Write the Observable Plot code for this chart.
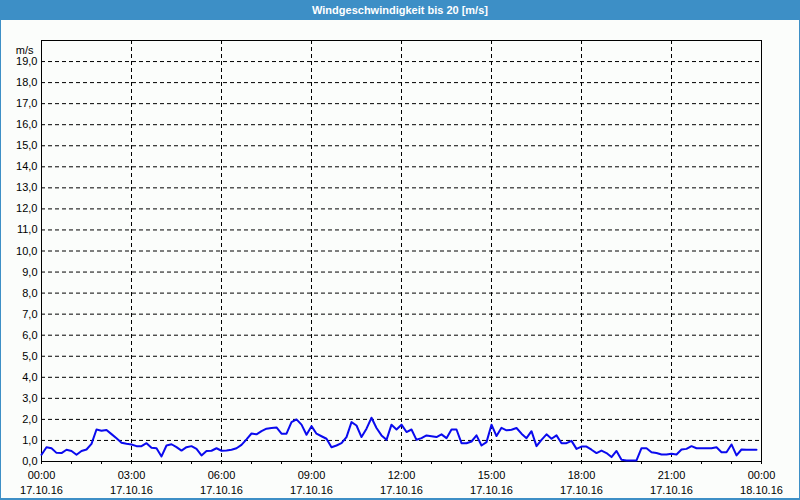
<!DOCTYPE html>
<html>
<head>
<meta charset="utf-8">
<script src="https://cdn.jsdelivr.net/npm/d3@7"></script>
<script src="https://cdn.jsdelivr.net/npm/@observablehq/plot@0.6"></script>
<style>
  html, body { margin: 0; padding: 0; background: #fbfdfb; }
  #wrap { position: relative; width: 800px; height: 500px; overflow: hidden; background: #fbfdfb; }
  #title { position: absolute; left: 0; top: 0; width: 800px; height: 20px; background: #3d8fc6;
           color: #fff; font: bold 11px "Liberation Sans", Arial, sans-serif; text-align: center; line-height: 20px; }
  #chart { position: absolute; left: 0; top: 20px; }
  #border { position: absolute; left: 0; top: 0; width: 800px; height: 500px; box-sizing: border-box;
            border-left: 1px solid #3d8fc6; border-right: 1px solid #3d8fc6; border-bottom: 2px solid #3d8fc6; pointer-events: none; }
</style>
</head>
<body>
<div id="wrap">
  <div id="title">Windgeschwindigkeit bis 20 [m/s]</div>
  <div id="chart"></div>
  <div id="border"></div>
</div>
<script>
// --- data ---
const titleText = "Windgeschwindigkeit bis 20 [m/s]";
const unitLabel = "m/s";
const startTime = "2016-10-17T00:00:00Z";
const endTime = "2016-10-18T00:00:00Z";
const stepMinutes = 10;
const speeds = [
  0.32, 0.68, 0.63, 0.41, 0.40, 0.56, 0.50, 0.32, 0.50, 0.57,
  0.84, 1.52, 1.46, 1.50, 1.30, 1.10, 0.89, 0.84, 0.81, 0.73,
  0.73, 0.87, 0.65, 0.63, 0.24, 0.76, 0.82, 0.68, 0.52, 0.68,
  0.73, 0.60, 0.29, 0.50, 0.51, 0.63, 0.51, 0.52, 0.56, 0.63,
  0.79, 1.05, 1.33, 1.29, 1.44, 1.56, 1.59, 1.62, 1.32, 1.32,
  1.87, 2.00, 1.75, 1.27, 1.68, 1.32, 1.20, 1.08, 0.68, 0.76,
  0.87, 1.16, 1.87, 1.71, 1.16, 1.56, 2.08, 1.59, 1.24, 1.03,
  1.75, 1.52, 1.75, 1.40, 1.52, 1.03, 1.11, 1.24, 1.20, 1.16,
  1.29, 1.11, 1.52, 1.52, 0.87, 0.87, 0.95, 1.24, 0.76, 0.92,
  1.75, 1.21, 1.60, 1.48, 1.51, 1.59, 1.32, 1.11, 1.44, 0.73,
  1.03, 1.29, 1.08, 1.24, 0.87, 0.87, 0.98, 0.60, 0.71, 0.71,
  0.56, 0.40, 0.52, 0.40, 0.21, 0.50, 0.08, 0.05, 0.05, 0.05,
  0.63, 0.63, 0.44, 0.40, 0.33, 0.33, 0.37, 0.33, 0.57, 0.60,
  0.73, 0.63, 0.63, 0.63, 0.63, 0.68, 0.44, 0.44, 0.81, 0.29,
  0.57, 0.56, 0.56, 0.56
];
const yTicks = [0,1,2,3,4,5,6,7,8,9,10,11,12,13,14,15,16,17,18,19];
const xLabelHours = [0,3,6,9,12,15,18,21,24];
const xMinorHours = [0,1,2,3,4,5,6,7,8,9,10,11,12,13,14,15,16,17,18,19,20,21,22,23,24];
const xGridHours = [3,6,9,12,15,18,21];

// --- build ---
document.getElementById("title").textContent = titleText;
const t0 = new Date(startTime);
const t1 = new Date(endTime);
const hourDate = h => new Date(t0.getTime() + h * 3600e3);
const data = speeds.map((v, i) => ({t: new Date(t0.getTime() + i * stepMinutes * 60e3), v}));
const fmtTime = d3.utcFormat("%H:%M");
const fmtDate = d3.utcFormat("%d.%m.%y");
const fmtY = d => d.toFixed(1).replace(".", ",");

const chart = Plot.plot({
  width: 800,
  height: 480,
  marginTop: 20,
  marginBottom: 39,
  marginLeft: 41,
  marginRight: 39,
  style: {background: "transparent", fontFamily: "'Liberation Sans', Arial, sans-serif", fontSize: "11px", color: "#000"},
  x: {type: "utc", domain: [t0, t1]},
  y: {domain: [0, 20]},
  marks: [
    Plot.gridY(yTicks.filter(d => d > 0), {stroke: "#000", strokeOpacity: 1, strokeDasharray: "4,3"}),
    Plot.gridX(xGridHours.map(hourDate), {stroke: "#000", strokeOpacity: 1, strokeDasharray: "4,3"}),
    Plot.frame({stroke: "#000"}),
    Plot.axisY(yTicks, {tickSize: 0, tickPadding: 4, tickFormat: fmtY, label: null, fontSize: 11}),
    Plot.text([unitLabel], {frameAnchor: "top-left", dx: -8, dy: 6, textAnchor: "end", fontSize: 11}),
    Plot.axisX(xMinorHours.map(hourDate), {tickSize: 3, tickFormat: () => "", label: null, stroke: "#000"}),
    Plot.axisX(xLabelHours.map(hourDate), {tickSize: 0, tickPadding: 10, tickFormat: fmtTime, label: null, fontSize: 11}),
    Plot.axisX(xLabelHours.map(hourDate), {tickSize: 0, tickPadding: 25, tickFormat: fmtDate, label: null, fontSize: 11}),
    Plot.line(data, {x: "t", y: "v", stroke: "#0a0aee", strokeWidth: 2, curve: "linear"})
  ]
});
document.getElementById("chart").appendChild(chart);
</script>
</body>
</html>
